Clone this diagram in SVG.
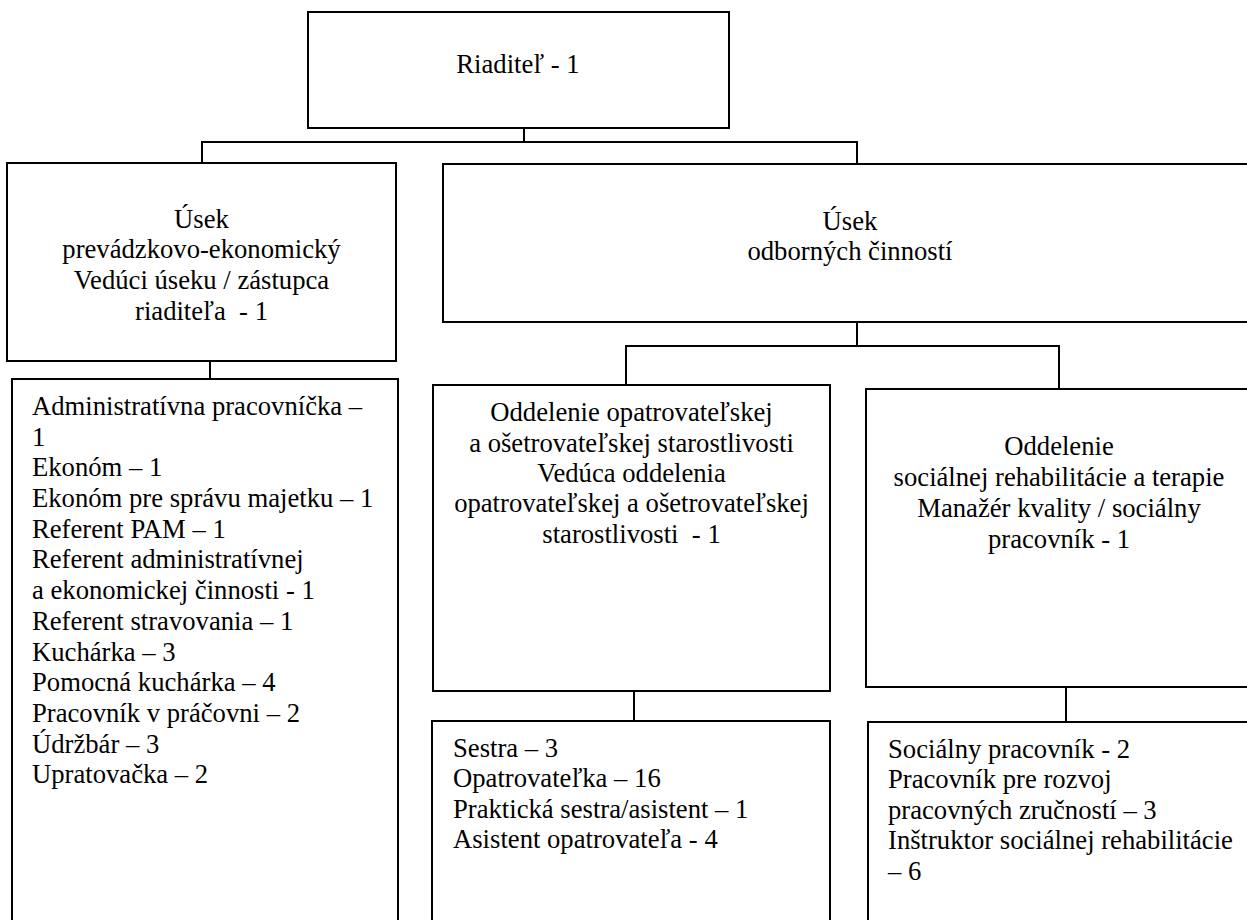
<svg xmlns="http://www.w3.org/2000/svg" width="1247" height="920" viewBox="0 0 1247 920">
<style>
.box{fill:#fff;stroke:#000;stroke-width:2}
.conn{fill:none;stroke:#000;stroke-width:2}
text{font-family:"Liberation Serif","Times New Roman",serif;font-size:26.67px;fill:#000;white-space:pre}
.c{text-anchor:middle}
</style>
<rect width="1247" height="920" fill="#fff"/>
<g id="connectors">
<path class="conn" d="M524 128V142M202 163V142H857V164"/>
<path class="conn" d="M210 361V379"/>
<path class="conn" d="M857 322V346M626 385V346H1059V389"/>
<path class="conn" d="M634 691V721"/>
<path class="conn" d="M1066 687V722"/>
</g>
<g id="riaditel">
<rect class="box" x="308" y="12" width="421" height="116"/>
<text class="c" x="518" y="73">Riaditeľ - 1</text>
</g>
<g id="usek-prevadzkovo">
<rect class="box" x="7" y="163" width="389" height="198"/>
<text class="c" x="201.5" y="228">Úsek</text>
<text class="c" x="201.5" y="258">prevádzkovo-ekonomický</text>
<text class="c" x="201.5" y="289">Vedúci úseku / zástupca</text>
<text class="c" x="201.5" y="320">riaditeľa  - 1</text>
</g>
<g id="list-prevadzkovo">
<rect class="box" x="12" y="379" width="386" height="560"/>
<text x="32" y="415">Administratívna pracovníčka –</text>
<text x="32" y="446">1</text>
<text x="32" y="476">Ekonóm – 1</text>
<text x="32" y="507">Ekonóm pre správu majetku – 1</text>
<text x="32" y="538">Referent PAM – 1</text>
<text x="32" y="568">Referent administratívnej</text>
<text x="32" y="599">a ekonomickej činnosti - 1</text>
<text x="32" y="630">Referent stravovania – 1</text>
<text x="32" y="661">Kuchárka – 3</text>
<text x="32" y="691">Pomocná kuchárka – 4</text>
<text x="32" y="722">Pracovník v práčovni – 2</text>
<text x="32" y="753">Údržbár – 3</text>
<text x="32" y="783">Upratovačka – 2</text>
</g>
<g id="usek-odbornych">
<rect class="box" x="443" y="164" width="814" height="158"/>
<text class="c" x="850" y="230">Úsek</text>
<text class="c" x="850" y="260">odborných činností</text>
</g>
<g id="oddelenie-opatrovatelskej">
<rect class="box" x="433" y="385" width="397" height="306"/>
<text class="c" x="631.5" y="421">Oddelenie opatrovateľskej</text>
<text class="c" x="631.5" y="452">a ošetrovateľskej starostlivosti</text>
<text class="c" x="631.5" y="482">Vedúca oddelenia</text>
<text class="c" x="631.5" y="512">opatrovateľskej a ošetrovateľskej</text>
<text class="c" x="631.5" y="543">starostlivosti  - 1</text>
</g>
<g id="list-opatrovatelskej">
<rect class="box" x="432" y="721" width="398" height="220"/>
<text x="453" y="757">Sestra – 3</text>
<text x="453" y="787">Opatrovateľka – 16</text>
<text x="453" y="818">Praktická sestra/asistent – 1</text>
<text x="453" y="848">Asistent opatrovateľa - 4</text>
</g>
<g id="oddelenie-socialnej">
<rect class="box" x="866" y="389" width="390" height="298"/>
<text class="c" x="1059" y="455">Oddelenie</text>
<text class="c" x="1059" y="486">sociálnej rehabilitácie a terapie</text>
<text class="c" x="1059" y="517">Manažér kvality / sociálny</text>
<text class="c" x="1059" y="548">pracovník - 1</text>
</g>
<g id="list-socialnej">
<rect class="box" x="868" y="722" width="390" height="220"/>
<text x="888" y="758">Sociálny pracovník - 2</text>
<text x="888" y="788">Pracovník pre rozvoj</text>
<text x="888" y="819">pracovných zručností – 3</text>
<text x="888" y="849">Inštruktor sociálnej rehabilitácie</text>
<text x="888" y="880">– 6</text>
</g>
</svg>
